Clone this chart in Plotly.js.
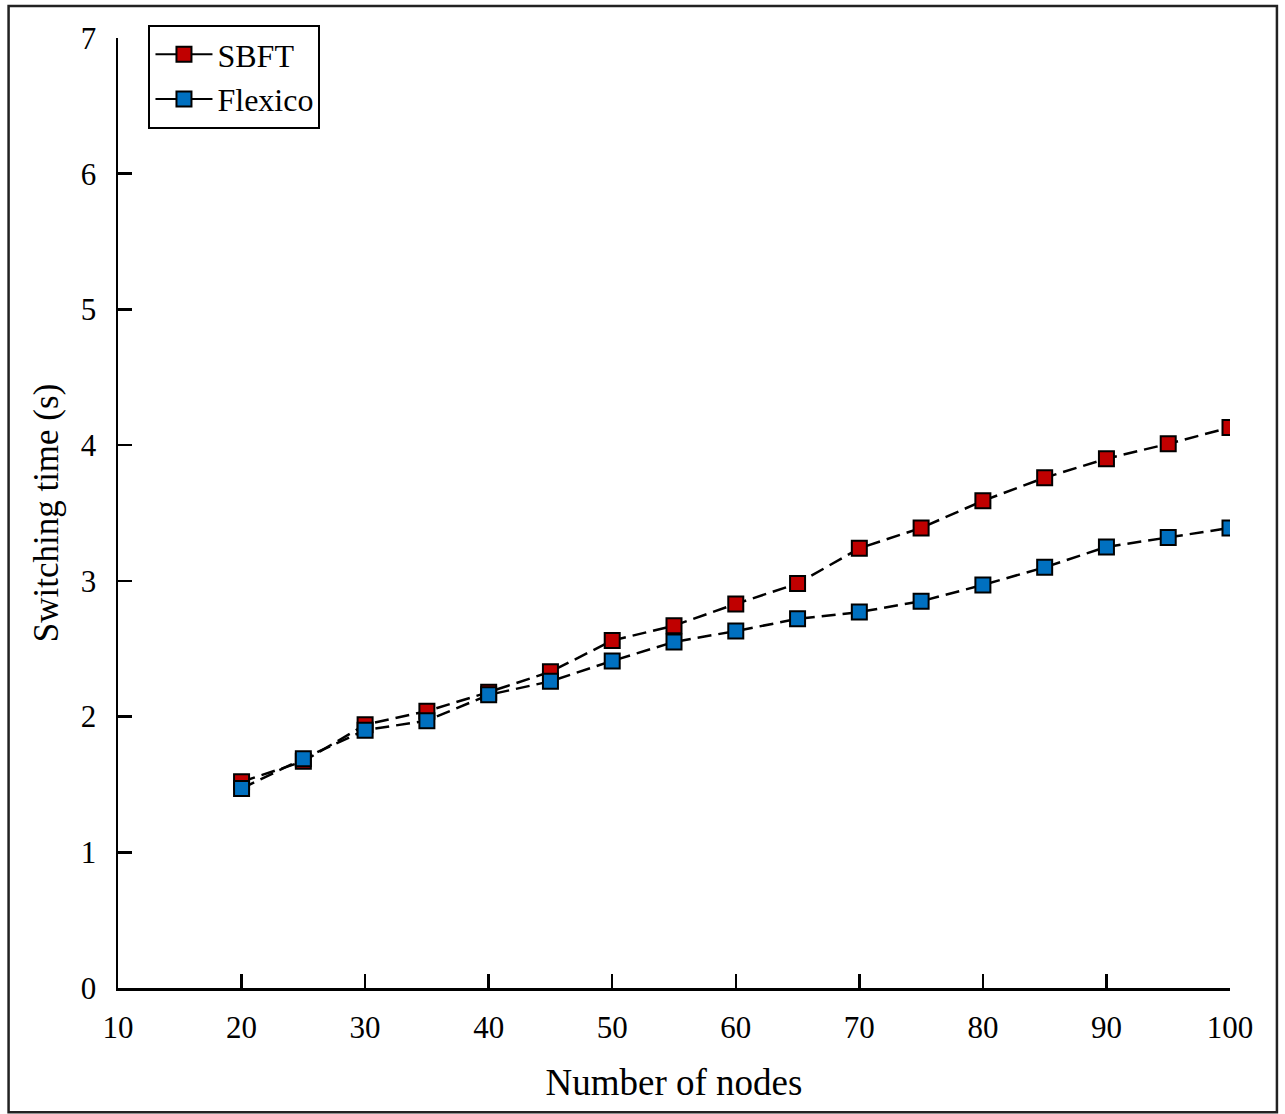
<!DOCTYPE html>
<html>
<head>
<meta charset="utf-8">
<script src="https://cdn.plot.ly/plotly-3.0.1.min.js"></script>
<style>
  html, body { margin: 0; padding: 0; background: #fff; }
  #chart { width: 1285px; height: 1114px; }
</style>
</head>
<body>
<div id="chart"></div>
<script>
const nodes = [20, 25, 30, 35, 40, 45, 50, 55, 60, 65, 70, 75, 80, 85, 90, 95, 100];
const sbft = [1.52, 1.67, 1.94, 2.04, 2.18, 2.33, 2.56, 2.67, 2.83, 2.98, 3.24, 3.39, 3.59, 3.76, 3.90, 4.01, 4.13];
const flexico = [1.47, 1.69, 1.90, 1.97, 2.16, 2.26, 2.41, 2.55, 2.63, 2.72, 2.77, 2.85, 2.97, 3.10, 3.25, 3.32, 3.39];
const seriesNames = ['SBFT', 'Flexico'];
const xTicks = [10, 20, 30, 40, 50, 60, 70, 80, 90, 100];
const yTicks = [0, 1, 2, 3, 4, 5, 6, 7];

const RED = '#C00000';
const BLUE = '#0070C0';
const FONT = 'Liberation Serif, Times New Roman, serif';

function dataTrace(y, color) {
  return {
    x: nodes, y: y, type: 'scatter', mode: 'lines+markers',
    showlegend: false, hoverinfo: 'x+y',
    line: { color: '#000', width: 2.5, dash: '14px,7px' },
    marker: { symbol: 'square', size: 15, color: color, line: { color: '#000', width: 2 } }
  };
}
function legendTrace(name, color) {
  return {
    x: [null], y: [null], type: 'scatter', mode: 'lines+markers', name: name,
    showlegend: true,
    line: { color: '#000', width: 2 },
    marker: { symbol: 'square', size: 15, color: color, line: { color: '#000', width: 2 } }
  };
}

const traces = [
  dataTrace(sbft, RED),
  dataTrace(flexico, BLUE),
  legendTrace(seriesNames[0], RED),
  legendTrace(seriesNames[1], BLUE)
];

const layout = {
  width: 1285, height: 1114,
  margin: { l: 117.5, r: 55, t: 38, b: 126.3, pad: 0 },
  paper_bgcolor: '#fff', plot_bgcolor: '#fff',
  font: { family: FONT, color: '#000', size: 30 },
  showlegend: true,
  legend: {
    x: 0.0274, y: 1.0137, xanchor: 'left', yanchor: 'top',
    bgcolor: '#fff', bordercolor: '#000', borderwidth: 2,
    font: { family: FONT, size: 32, color: '#000' },
    itemwidth: 57, tracegroupgap: 0
  },
  xaxis: {
    range: [10, 100], tickvals: xTicks, ticktext: xTicks.map(String),
    showgrid: false, zeroline: false, showline: true, linecolor: '#000', linewidth: 2.5,
    ticks: 'inside', ticklen: 14, tickwidth: 2.5, tickcolor: '#000',
    ticklabelstandoff: 10,
    tickfont: { family: FONT, size: 31, color: '#000' },
    title: { text: 'Number of nodes', font: { family: FONT, size: 37, color: '#000' }, standoff: 26 },
    fixedrange: true
  },
  yaxis: {
    range: [0, 7], tickvals: yTicks, ticktext: yTicks.map(String),
    showgrid: false, zeroline: false, showline: true, linecolor: '#000', linewidth: 2.5,
    ticks: 'inside', ticklen: 14, tickwidth: 2.5, tickcolor: '#000',
    ticklabelstandoff: 13,
    tickfont: { family: FONT, size: 31, color: '#000' },
    title: { text: 'Switching time (s)', font: { family: FONT, size: 35, color: '#000' }, standoff: 12 },
    fixedrange: true
  },
  shapes: [{
    type: 'rect', xref: 'paper', yref: 'paper',
    x0: -0.0984, x1: 1.0422, y0: -0.1309, y1: 1.0337,
    line: { color: '#222', width: 2.5 }, fillcolor: 'rgba(0,0,0,0)', layer: 'above'
  }]
};

Plotly.newPlot('chart', traces, layout, { displayModeBar: false, staticPlot: true });
</script>
</body>
</html>
